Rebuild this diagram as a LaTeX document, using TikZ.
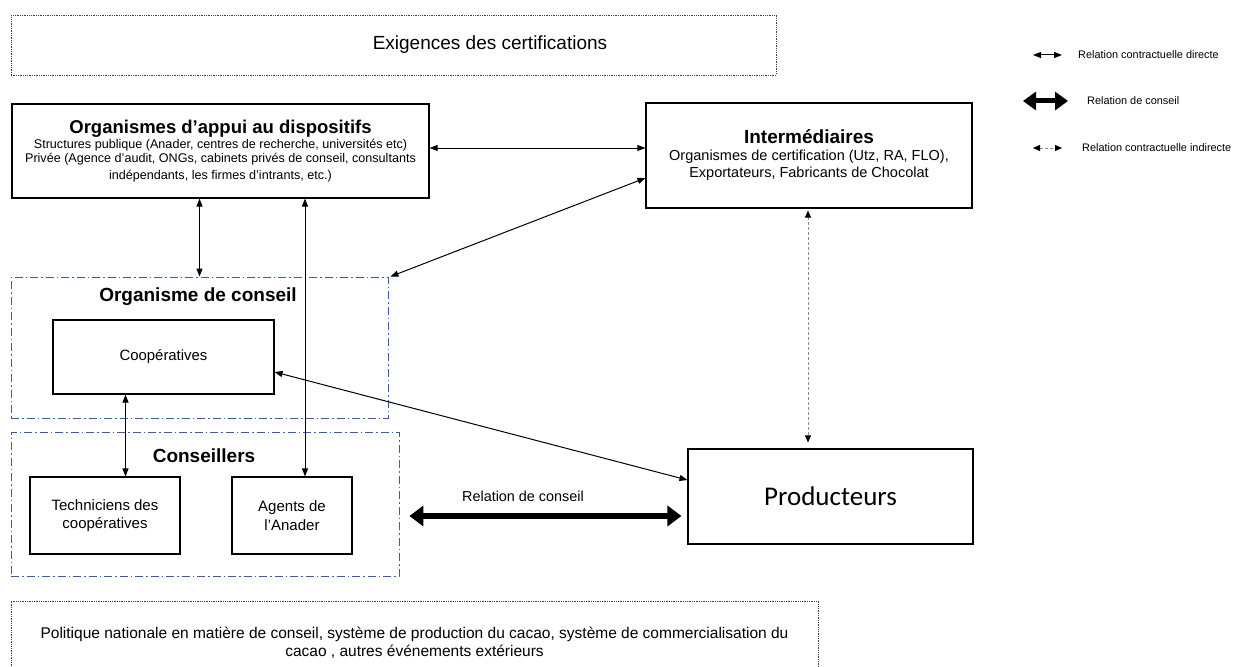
\documentclass[tikz,border=0pt]{standalone}
\usepackage{fontspec}
\setmainfont{Liberation Sans}
\newfontfamily\calibrifont{Carlito}
\usetikzlibrary{arrows.meta}
\definecolor{groupblue}{RGB}{62,92,160}
\tikzset{
  box/.style={draw, line width=1.1pt, align=center, inner sep=0pt},
  framebox/.style={draw=black!75, line width=0.9pt, dash pattern=on 1.3pt off 1pt, align=center, inner sep=0pt},
  groupbox/.style={draw=groupblue, line width=0.9pt, dash pattern=on 8pt off 3pt on 1.5pt off 3pt, inner sep=0pt},
  grouptitle/.style={font=\fontsize{19}{21}\selectfont\bfseries},
  rel/.style={line width=1pt, {Triangle[length=8pt,width=6pt]}-{Triangle[length=8pt,width=6pt]}},
  conseilrel/.style={line width=5.5pt, {Triangle[length=14pt,width=20pt]}-{Triangle[length=14pt,width=20pt]}},
  indirect/.style={draw=black!45, line width=1pt, dash pattern=on 3pt off 2pt,
    {Triangle[length=7pt,width=6pt,color=black]}-{Triangle[length=7pt,width=6pt,color=black]}},
  legendtext/.style={anchor=west, inner sep=0pt, font=\fontsize{10.9}{12}\selectfont}
}
\begin{document}
\begin{tikzpicture}[x=1pt,y=-1pt]
\useasboundingbox (0,0) rectangle (1233,666);
\node[framebox, minimum width=765, minimum height=60] (exig) at (393.5,45) {};
\node[font=\fontsize{19}{21}\selectfont] (exigtext) at (490,45) {Exigences des certifications};
\node[box, minimum width=417, minimum height=94, font=\fontsize{12.6}{14}\selectfont] (appui) at (220.5,151)
  {{\fontsize{18.5}{20}\selectfont\bfseries Organismes d’appui au dispositifs}\\[1.5pt]
   Structures publique (Anader, centres de recherche, universités etc)\\
   Privée (Agence d’audit, ONGs, cabinets privés de conseil, consultants\\[2.5pt]
   indépendants, les firmes d’intrants, etc.)};
\node[box, minimum width=326, minimum height=105, font=\fontsize{14.5}{17}\selectfont] (inter) at (809,155.5)
  {{\fontsize{19}{20}\selectfont\bfseries Intermédiaires}\\
   Organismes de certification (Utz, RA, FLO),\\
   Exportateurs, Fabricants de Chocolat};
\node[groupbox, minimum width=377, minimum height=141] (conseil) at (199.5,347.5) {};
\node[grouptitle] (conseiltitle) at (198,297) {Organisme de conseil};
\node[box, minimum width=221, minimum height=74, font=\fontsize{14.9}{17}\selectfont] (coop) at (163.5,357) {Coopératives};
\node[groupbox, minimum width=388, minimum height=144] (conseillers) at (205,504) {};
\node[grouptitle] (conseillerstitle) at (204,456) {Conseillers};
\node[box, minimum width=150, minimum height=77, font=\fontsize{15}{18}\selectfont] (tech) at (105,515.5) {Techniciens des\\coopératives};
\node[box, minimum width=120, minimum height=77, font=\fontsize{15}{19}\selectfont] (agents) at (292,515.5) {Agents de\\l’Anader};
\node[box, minimum width=285, minimum height=95, font=\fontsize{27}{30}\selectfont\calibrifont] (prod) at (830.5,496.5) {Producteurs};
\node[framebox, minimum width=807, minimum height=80] (politique) at (414.5,641) {};
\node[font=\fontsize{15.5}{18}\selectfont, align=center] (politiquetext) at (414.5,643)
  {Politique nationale en matière de conseil, système de production du cacao, système de commercialisation du\\
   cacao , autres événements extérieurs};
\coordinate (appuiright) at ([yshift=3]appui.east);
\coordinate (interlow) at ([yshift=-22.5]inter.west);
\coordinate (anaderline) at ([xshift=13]agents.north);
\coordinate (techline) at ([xshift=20.5]tech.north);
\coordinate (indirectline) at ([xshift=-22.5]prod.north);
\coordinate (conseilleft) at ([xshift=10,yshift=-12]conseillers.east);
\coordinate (conseilright) at ([xshift=-6,yshift=-19.5]prod.west);
\draw[rel] (appuiright) -- (appuiright -| inter.west);
\draw[rel] (interlow) -- ([xshift=2]conseil.north east);
\draw[rel] (appui.south -| conseil.north) -- (conseil.north);
\draw[rel] (appui.south -| anaderline) -- (anaderline);
\draw[rel] (coop.south -| techline) -- (techline);
\draw[rel] ([yshift=-15]coop.east) -- ([yshift=16.5]prod.west);
\draw[indirect] ([yshift=-2]inter.south -| indirectline) -- ([yshift=6]indirectline);
\draw[conseilrel] (conseilleft) -- (conseilright);
\node[font=\fontsize{14.4}{16}\selectfont] (conseillabel) at (523,496) {Relation de conseil};
\coordinate (la1) at (1033,55);
\coordinate (lb1) at (1062,55);
\coordinate (la2) at (1023,101);
\coordinate (lb2) at (1068,101);
\coordinate (la3) at (1033,148);
\coordinate (lb3) at (1062,148);
\draw[rel] (la1) -- (lb1);
\draw[line width=5pt, {Triangle[length=13pt,width=18pt]}-{Triangle[length=13pt,width=18pt]}] (la2) -- (lb2);
\draw[indirect] (la3) -- (lb3);
\node[legendtext] (legend1) at (1078,55) {Relation contractuelle directe};
\node[legendtext] (legend2) at (1087,101) {Relation de conseil};
\node[legendtext] (legend3) at (1082,148) {Relation contractuelle indirecte};
\end{tikzpicture}
\end{document}
